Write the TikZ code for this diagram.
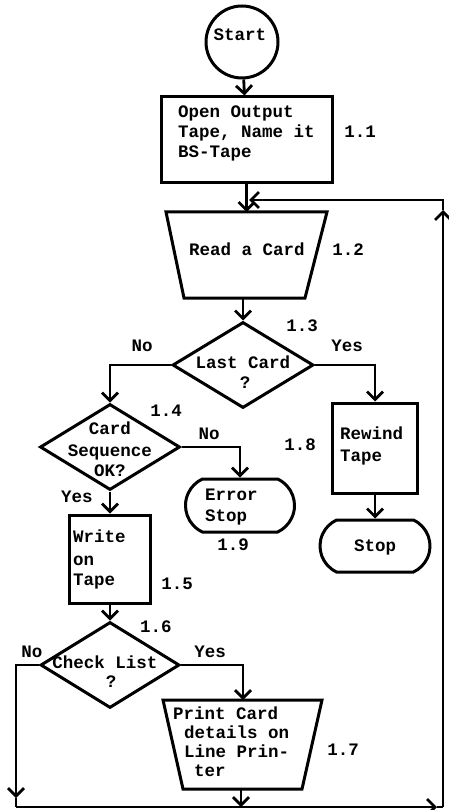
\documentclass[tikz,border=0pt]{standalone}
\usepackage{fontspec}
\newfontfamily\flowfont{Liberation Mono}
\usetikzlibrary{arrows.meta,shapes.geometric,shapes.misc}
\begin{document}
\begin{tikzpicture}[x=1pt,y=-1pt,
  shp/.style={draw, line width=3pt, inner sep=0pt},
  boxs/.style={shp, rectangle},
  dias/.style={shp, diamond},
  term/.style={shp, rounded rectangle, rounded rectangle arc length=130},
  trapline/.style={line width=3pt, line join=miter},
  txt/.style={font=\flowfont\bfseries\fontsize{17.5}{21}\selectfont, inner sep=0pt},
  tl/.style={txt, anchor=base west},
  tc/.style={txt, anchor=base},
  ln/.style={line width=2.8pt},
  arr/.style={ln, -{Straight Barb[length=8pt,width=16pt]}}
]
\path[use as bounding box] (0,0) rectangle (449,810);

% shapes
\node[shp, circle, minimum size=72pt] (start) at (242,42) {};
\node[tc] (tstart) at (240,41) {Start};

\node[boxs, minimum width=171pt, minimum height=86pt] (b11) at (246.5,140) {};
\node[tl] (t11a) at (178,118) {Open Output};
\node[tl] (t11b) at (178,138) {Tape, Name it};
\node[tl] (t11c) at (178,158) {BS-Tape};
\node[tc] (l11) at (360,138) {1.1};

% trapezoid 1.2
\draw[trapline] (166,212) -- (327,212) -- (305,298) -- (184,298) -- cycle;
\coordinate (b12n) at (246.5,212);
\coordinate (b12s) at (243,298);
\node[tc] (t12) at (247,255) {Read a Card};
\node[tc] (l12) at (348,255) {1.2};

\node[dias, minimum width=141pt, minimum height=86pt] (d13) at (243,365) {};
\node[tc] (t13a) at (243,368) {Last Card};
\node[tc] (t13b) at (245,388) {?};
\node[tc] (l13) at (302,331) {1.3};
\node[tc] (n13) at (142,351) {No};
\node[tc] (y13) at (347,351) {Yes};

\node[dias, minimum width=140pt, minimum height=86pt] (d14) at (110,447) {};
\node[tc] (t14a) at (110,434) {Card};
\node[tc] (t14b) at (110,456) {Sequence};
\node[tc] (t14c) at (110,476) {OK?};
\node[tc] (l14) at (166,416) {1.4};
\node[tc] (n14) at (209,439) {No};
\node[tc] (y14) at (77,502) {Yes};

\node[term, minimum width=109pt, minimum height=53pt] (err) at (240,505.5) {};
\node[tl] (terra) at (205,500) {Error};
\node[tl] (terrb) at (205,521) {Stop};
\node[tc] (l19) at (233,550) {1.9};

\node[boxs, minimum width=81pt, minimum height=88pt] (b15) at (110,559) {};
\node[tl] (t15a) at (73,542) {Write};
\node[tl] (t15b) at (73,565) {on};
\node[tl] (t15c) at (73,585) {Tape};
\node[tc] (l15) at (177,589) {1.5};

\node[boxs, minimum width=85pt, minimum height=90pt] (b18) at (375,448) {};
\node[tl] (t18a) at (340,439) {Rewind};
\node[tl] (t18b) at (340,461) {Tape};
\node[tc] (l18) at (300,450) {1.8};

\node[term, minimum width=110pt, minimum height=52pt] (stop) at (375,546) {};
\node[tc] (tstop) at (375,551) {Stop};

\node[dias, minimum width=139pt, minimum height=86pt] (d16) at (110,665) {};
\node[tc] (t16a) at (105,668) {Check List};
\node[tc] (t16b) at (111,687) {?};
\node[tc] (l16) at (156,632) {1.6};
\node[tc] (n16) at (32,657) {No};
\node[tc] (y16) at (210,657) {Yes};

% trapezoid 1.7
\draw[trapline] (163,700) -- (322,700) -- (302,789) -- (183,789) -- cycle;
\coordinate (p17n) at (243,700);
\coordinate (p17s) at (241,789);
\node[tl] (t17a) at (173,719) {Print Card};
\node[tl] (t17b) at (184,738) {details on};
\node[tl] (t17c) at (184,757) {Line Prin-};
\node[tl] (t17d) at (194,776) {ter};
\node[tc] (l17) at (343,755) {1.7};

% loop coordinates
\coordinate (bl) at (16,807);
\coordinate (blA) at (16,798);
\coordinate (brA) at (437,807);
\coordinate (br) at (443,807);
\coordinate (trA) at (443,210);
\coordinate (tr) at (443,200);
\coordinate (jn) at (249,200);

% connectors
\draw[arr] (start) -- (b11);
\draw[arr] (b11.south) -- (b12n);
\draw[arr] (b12s) -- (d13.north);
\draw[arr] (d13.west) -| (d14.north);
\draw[arr] (d13.east) -| (b18.north);
\draw[arr] (d14.east) -| (err.north);
\draw[arr] (d14.south) -- (b15.north);
\draw[arr] (b18.south) -- (stop.north);
\draw[arr] (b15.south) -- (d16.north);
\draw[arr] (d16.east) -| (p17n);
\draw[arr] (d16.west) -| (blA);
\draw[arr] (p17s) -- (p17s |- bl);
\draw[ln] (blA) -- (bl);
\draw[arr] (bl) -- (brA);
\draw[ln] (brA) -- (br);
\draw[arr] (br) -- (trA);
\draw[arr] (trA) -- (tr) -- (jn);
\end{tikzpicture}
\end{document}
